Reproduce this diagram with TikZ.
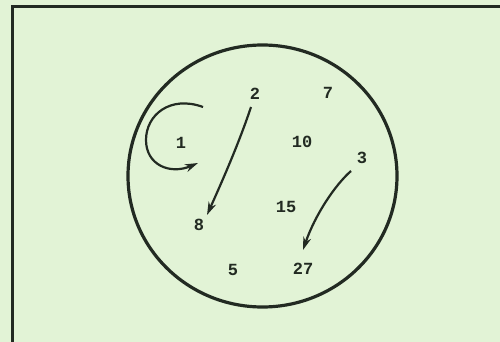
\documentclass[tikz,border=0pt]{standalone}
\usepackage{fontspec}
\setmainfont{Liberation Mono}
\usetikzlibrary{arrows.meta}
\definecolor{paper}{RGB}{226,243,214}
\definecolor{ink}{RGB}{34,42,34}
\begin{document}
\begin{tikzpicture}[x=1pt,y=-1pt,
  num/.style={font=\fontsize{17}{17}\selectfont\bfseries, text=ink, inner sep=0pt},
  arr/.style={draw=ink, line width=2.2pt, -{Stealth[length=13pt,width=8pt]}}]
\fill[paper] (0,0) rectangle (500,342);
\useasboundingbox (0,0) rectangle (500,342);
\draw[ink, line width=3pt] (12,342) -- (12,7) -- (500,7);
\draw[ink, line width=3.2pt] (262.5,176) ellipse [x radius=134.5, y radius=131];
\node[num] (n2) at (255,94) {2};
\node[num] (n7) at (328,93) {7};
\node[num] (n1) at (181,143) {1};
\node[num] (n10) at (302,142) {10};
\node[num] (n3) at (362,158) {3};
\node[num] (n15) at (286,207) {15};
\node[num] (n8) at (199,225) {8};
\node[num] (n5) at (233,270) {5};
\node[num] (n27) at (303,269) {27};
\coordinate (loopS) at (203,107);
\coordinate (loopE) at (198,163);
\coordinate (a2) at (251,107);
\coordinate (a8) at (207,215);
\coordinate (a3) at (351,171);
\coordinate (a27) at (303,250);
\draw[arr] (loopS) .. controls (170,95) and (146,115) .. (146,140) .. controls (146,165) and (170,175) .. (loopE);
\draw[arr] (a2) .. controls (240,140) and (225,175) .. (a8);
\draw[arr] (a3) .. controls (335,185) and (315,215) .. (a27);
\end{tikzpicture}
\end{document}
